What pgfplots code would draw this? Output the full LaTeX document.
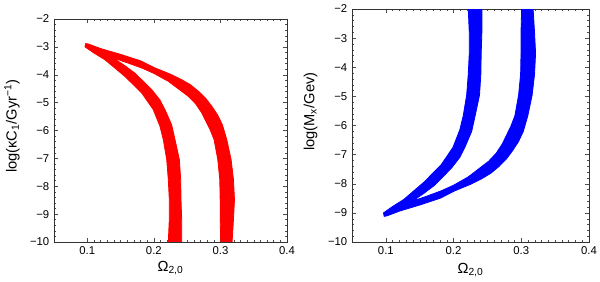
\documentclass[border=0pt]{standalone}
\usepackage{fontspec}
\setmainfont{Liberation Sans}
\usepackage{pgfplots}
\pgfplotsset{compat=1.18}
\pgfplotsset{mystyle/.style={
  scale only axis,
  xmin=0.05, xmax=0.4, ymin=-10, ymax=-2,
  xtick={0.1,0.2,0.3,0.4},
  xticklabels={0.1,0.2,0.3,0.4},
  ytick={-10,-9,-8,-7,-6,-5,-4,-3,-2},
  yticklabels={−10,−9,−8,−7,−6,−5,−4,−3,−2},
  minor x tick num=9, minor y tick num=4,
  tick align=inside,
  major tick length=3pt, minor tick length=1.2pt,
  tick style={black!70, line width=0.3pt},
  axis line style={black!80, line width=0.4pt},
  tick label style={font=\fontsize{8.5}{10}\selectfont},
  label style={font=\fontsize{11}{12}\selectfont},
  xlabel style={anchor=north, inner sep=0pt},
  ylabel style={anchor=center, inner sep=0pt},
}}
\begin{document}
\begin{tikzpicture}
\useasboundingbox (0,0) rectangle (450pt,211.5pt);
\begin{axis}[mystyle, at={(40.5pt,30pt)}, anchor=south west,
  width=174.75pt, height=167.25pt,
  xlabel={Ω\textsubscript{2,0}},
  ylabel={log(κC\textsubscript{1}/Gyr\textsuperscript{−1})},
  xlabel style={at={(axis description cs:0.5,-0.084)}},
  ylabel style={at={(axis description cs:-0.18,0.52)}}]
\addplot[fill=red, draw=red, line width=0.6pt, line join=round] coordinates {
(0.0975,-2.88) (0.1020,-2.90) (0.1200,-3.06) (0.1515,-3.28) (0.1800,-3.50)
(0.2017,-3.756) (0.2250,-3.98) (0.2418,-4.176) (0.2550,-4.36) (0.2669,-4.59)
(0.2780,-4.85) (0.2870,-5.13) (0.2960,-5.45) (0.3030,-5.80) (0.3096,-6.33)
(0.3160,-7.04) (0.3196,-7.76) (0.3211,-8.48) (0.3196,-9.19) (0.3175,-10.0)
(0.3005,-10.0) (0.2996,-9.19) (0.2996,-8.48) (0.2990,-7.76) (0.2960,-7.04)
(0.2905,-6.33) (0.2845,-5.97) (0.2770,-5.61) (0.2720,-5.37) (0.2630,-5.05)
(0.2518,-4.774) (0.2217,-4.236) (0.2000,-3.95) (0.1816,-3.756) (0.1600,-3.57)
(0.1389,-3.40) (0.1550,-3.65) (0.1715,-3.94) (0.1967,-4.53) (0.2090,-4.90)
(0.2167,-5.25) (0.2268,-5.80) (0.2318,-6.33) (0.2383,-7.04) (0.2403,-7.76)
(0.2408,-8.48) (0.2418,-9.19) (0.2418,-10.0) (0.2217,-10.0) (0.2232,-9.19)
(0.2232,-8.48) (0.2217,-7.76) (0.2193,-7.04) (0.2142,-6.33) (0.2092,-5.85)
(0.1991,-5.25) (0.1816,-4.65) (0.1565,-4.06) (0.1264,-3.46) (0.1100,-3.22)
(0.0965,-3.00)
} -- cycle;
\end{axis}
\begin{axis}[mystyle, at={(264pt,30pt)}, anchor=south west,
  width=177.75pt, height=174.75pt,
  xlabel={Ω\textsubscript{2,0}},
  ylabel={log(M\textsubscript{x}/Gev)},
  xlabel style={at={(axis description cs:0.5,-0.091)}},
  ylabel style={at={(axis description cs:-0.175,0.56)}}]
\addplot[fill=blue, draw=blue, line width=0.6pt, line join=round] coordinates {
(0.0975,-9.12) (0.1020,-9.10) (0.1200,-8.94) (0.1515,-8.72) (0.1800,-8.50)
(0.2017,-8.244) (0.2250,-8.02) (0.2418,-7.824) (0.2550,-7.64) (0.2669,-7.41)
(0.2780,-7.15) (0.2870,-6.87) (0.2960,-6.55) (0.3030,-6.20) (0.3096,-5.67)
(0.3160,-4.96) (0.3196,-4.24) (0.3211,-3.52) (0.3196,-2.81) (0.3175,-2.0)
(0.3005,-2.0) (0.2996,-2.81) (0.2996,-3.52) (0.2990,-4.24) (0.2960,-4.96)
(0.2905,-5.67) (0.2845,-6.03) (0.2770,-6.39) (0.2720,-6.63) (0.2630,-6.95)
(0.2518,-7.226) (0.2217,-7.764) (0.2000,-8.05) (0.1816,-8.244) (0.1600,-8.43)
(0.1389,-8.60) (0.1550,-8.35) (0.1715,-8.06) (0.1967,-7.47) (0.2090,-7.10)
(0.2167,-6.75) (0.2268,-6.20) (0.2318,-5.67) (0.2383,-4.96) (0.2403,-4.24)
(0.2408,-3.52) (0.2418,-2.81) (0.2418,-2.0) (0.2217,-2.0) (0.2232,-2.81)
(0.2232,-3.52) (0.2217,-4.24) (0.2193,-4.96) (0.2142,-5.67) (0.2092,-6.15)
(0.1991,-6.75) (0.1816,-7.35) (0.1565,-7.94) (0.1264,-8.54) (0.1100,-8.78)
(0.0965,-9.00)
} -- cycle;
\end{axis}
\end{tikzpicture}
\end{document}
